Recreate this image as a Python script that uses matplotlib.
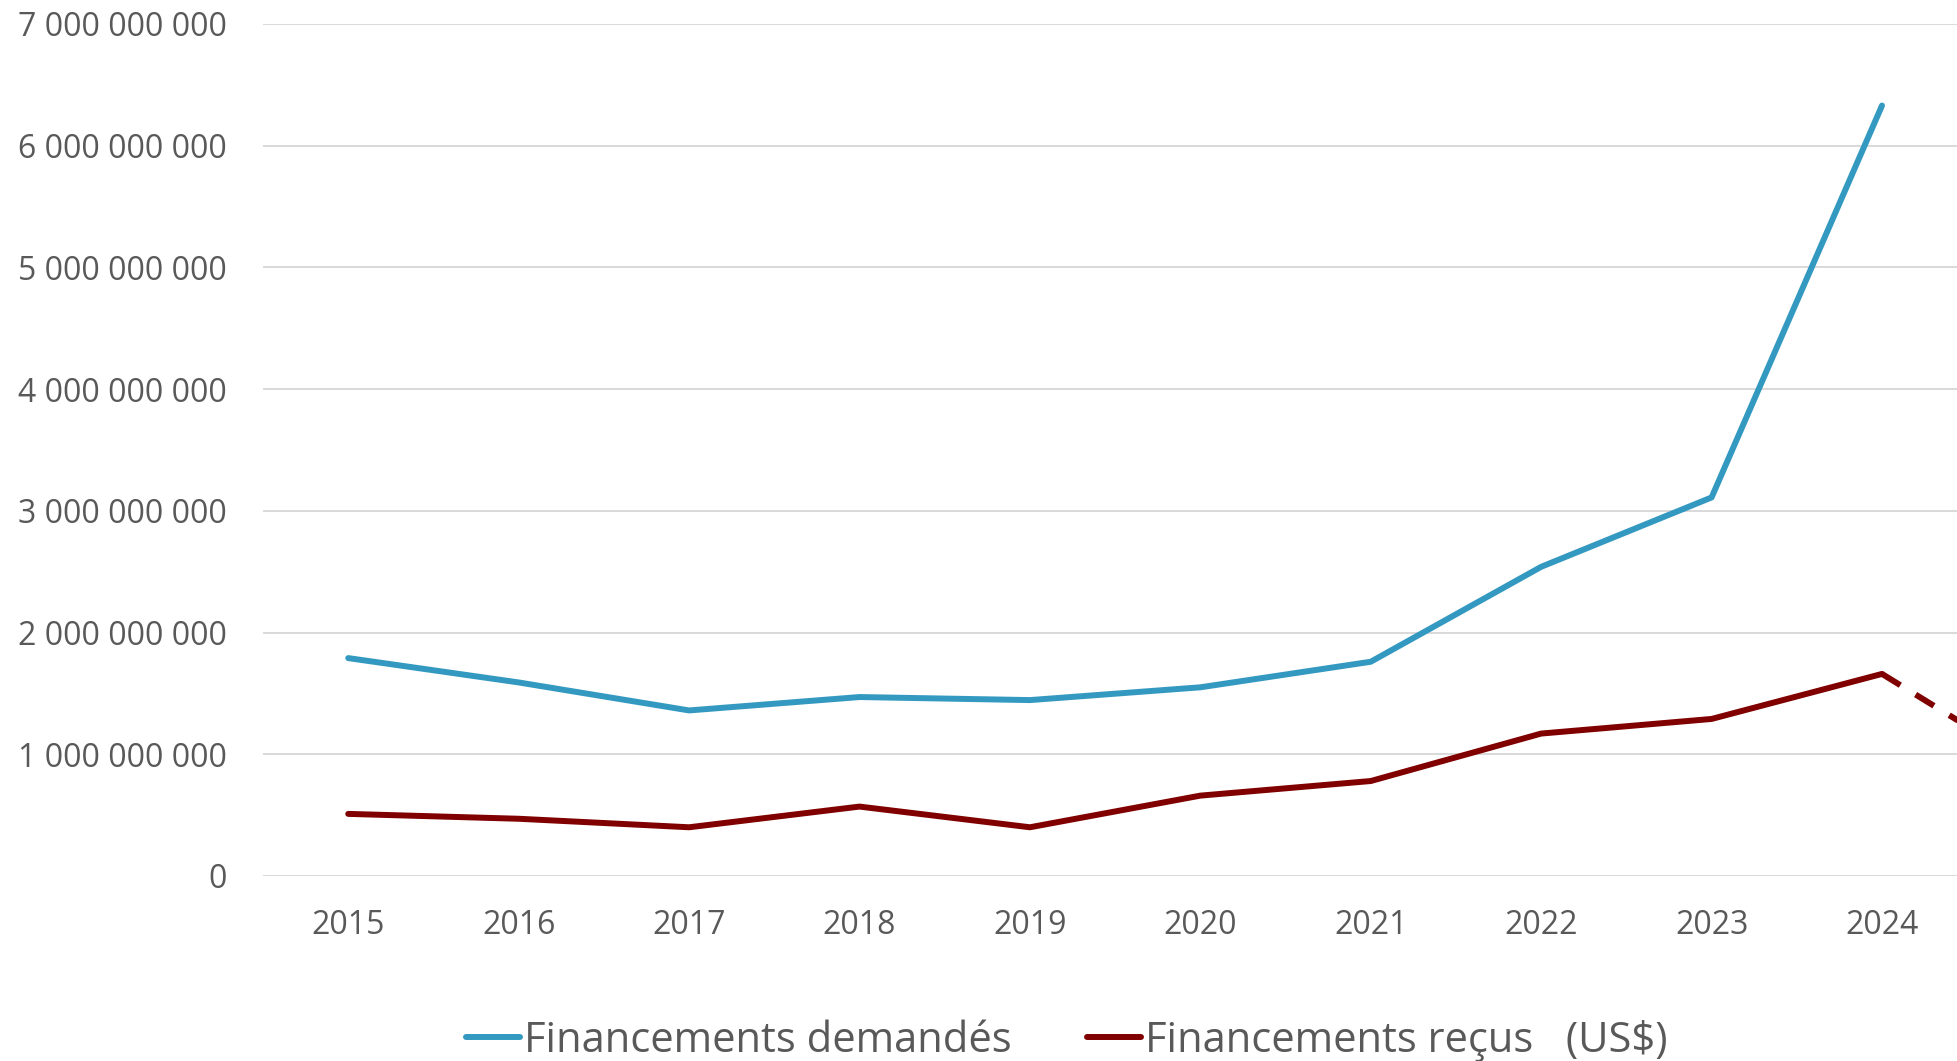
import matplotlib.pyplot as plt
from matplotlib.ticker import FuncFormatter

## data
years = [2015, 2016, 2017, 2018, 2019, 2020, 2021, 2022, 2023, 2024]
demandes = [1.79e9, 1.59e9, 1.36e9, 1.47e9, 1.445e9, 1.55e9, 1.76e9, 2.54e9, 3.11e9, 6.33e9]
recus = [0.51e9, 0.47e9, 0.40e9, 0.57e9, 0.40e9, 0.66e9, 0.78e9, 1.17e9, 1.29e9, 1.66e9]
## projected part (dashed, runs off the right edge)
proj_years = [2024, 2025]
proj_recus = [1.66e9, 0.80e9]

labels = ["Financements demandés", "Financements reçus   (US$)"]
blue = "#3499c0"
red = "#800000"
grey = "#595959"

plt.rcParams['font.family'] = ['Open Sans', 'DejaVu Sans']

fig = plt.figure(figsize=(19.57, 10.61), dpi=100)
ax = fig.add_axes([0.1344, 0.1744, 0.8656, 0.8030])

ax.plot(years, demandes, color=blue, lw=4.3, solid_capstyle='round', solid_joinstyle='round', label=labels[0])
ax.plot(years, recus, color=red, lw=4.3, solid_capstyle='round', solid_joinstyle='round', label=labels[1])
ax.plot(proj_years, proj_recus, color=red, lw=4.3, dashes=(3.6, 3.0), dash_capstyle='butt')

ax.set_xlim(2014.5, 2024.44)
ax.set_ylim(0, 7e9)
ax.set_yticks([i * 1e9 for i in range(8)])
ax.set_xticks(years)
ax.yaxis.set_major_formatter(FuncFormatter(lambda v, p: "{:,}".format(int(v)).replace(",", " ")))

ax.grid(axis='y', color='#d9d9d9', lw=1.4)
ax.set_axisbelow(True)
for s in ax.spines.values():
    s.set_visible(False)
ax.tick_params(axis='y', length=0, pad=26, labelsize=23, labelcolor=grey)
ax.tick_params(axis='x', length=0, pad=24, labelsize=23, labelcolor=grey)

leg = fig.legend(loc='center', bbox_to_anchor=(0.545, 0.019), ncol=2, frameon=False,
                 fontsize=30, handlelength=1.3, handletextpad=0.1, columnspacing=1.8)
for t in leg.get_texts():
    t.set_color(grey)

fig.savefig("out.png", dpi=100)
